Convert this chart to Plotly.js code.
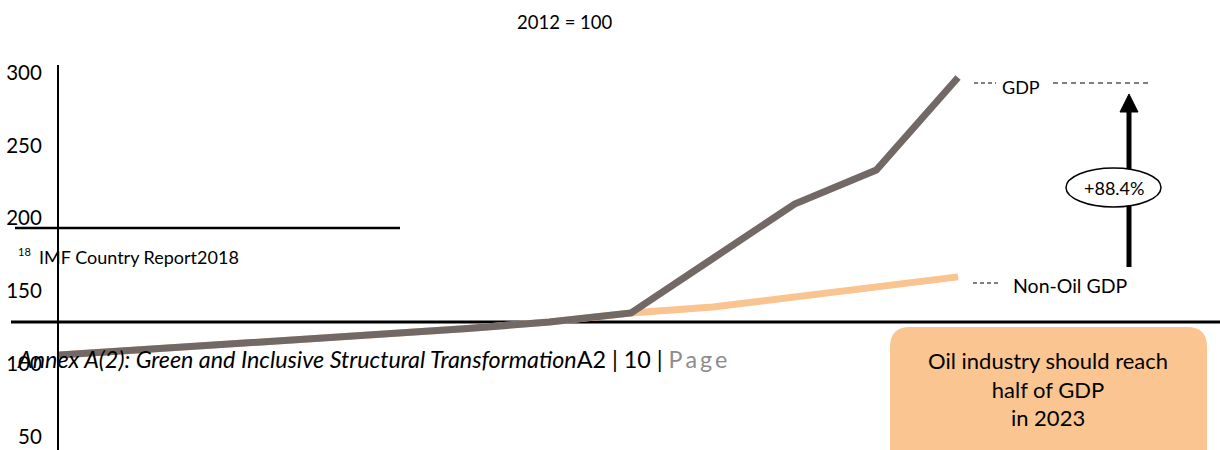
<!DOCTYPE html>
<html>
<head>
<meta charset="utf-8">
<script src="https://cdn.plot.ly/plotly-3.0.1.min.js"></script>
<style>html,body{margin:0;padding:0;background:#fff;}#chart{width:1220px;height:450px;}</style>
</head>
<body>
<div id="chart"></div>
<script>
// ---- data ----
const years = [2012, 2013, 2014, 2015, 2016, 2017, 2018, 2019, 2020, 2021, 2022, 2023];
const gdp = [106.2, 109.7, 113.1, 116.5, 120.6, 124.4, 128.9, 135.1, 172.4, 209.8, 233.1, 296.5];
const nonOilGdp = [106.2, 109.7, 113.1, 116.5, 120.6, 124.4, 128.9, 135.1, 139.2, 146.1, 152.9, 159.8];
const yTicks = [50, 100, 150, 200, 250, 300];
const seriesNames = ["GDP", "Non-Oil GDP"];
const titleText = "2012 = 100";
const growthLabel = "+88.4%";
const noteText = "Oil industry should reach<br>half of GDP<br>in 2023";

// ---- layout geometry ----
const W = 1220, H = 450, ML = 59, MT = 65;
const PW = W - ML, PH = H - MT;
const px = x => (x - ML) / PW;       // pixel -> paper x
const py = y => (H - y) / PH;        // pixel -> paper y
const FONT = "Lato, 'Open Sans', sans-serif";

const traces = [
  {x: years, y: nonOilGdp, name: seriesNames[1], mode: "lines",
   line: {color: "#F9C48F", width: 7}, hoverinfo: "skip"},
  {x: years, y: gdp, name: seriesNames[0], mode: "lines",
   line: {color: "#726966", width: 7}, hoverinfo: "skip"}
];

function rr(x0, y0, x1, y1, r) {
  const X0 = px(x0), X1 = px(x1), Y0 = py(y0), Y1 = py(y1);
  const rx = r / PW, ry = r / PH;
  return `M ${X0+rx},${Y0} L ${X1-rx},${Y0} Q ${X1},${Y0} ${X1},${Y0-ry} L ${X1},${Y1+ry} Q ${X1},${Y1} ${X1-rx},${Y1} L ${X0+rx},${Y1} Q ${X0},${Y1} ${X0},${Y1+ry} L ${X0},${Y0-ry} Q ${X0},${Y0} ${X0+rx},${Y0} Z`;
}

const shapes = [
  // page separator lines
  {type: "line", xref: "paper", yref: "paper", x0: px(15), x1: px(400), y0: py(228), y1: py(228),
   line: {color: "#000", width: 2.5}, layer: "below"},
  {type: "line", xref: "paper", yref: "paper", x0: px(11), x1: px(1220), y0: py(322), y1: py(322),
   line: {color: "#000", width: 3}, layer: "below"},
  // dashed legend leaders
  {type: "line", xref: "paper", yref: "paper", x0: px(974), x1: px(996), y0: py(83), y1: py(83),
   line: {color: "#000", width: 1, dash: "4px,3px"}},
  {type: "line", xref: "paper", yref: "paper", x0: px(1053), x1: px(1150), y0: py(83), y1: py(83),
   line: {color: "#000", width: 1, dash: "5px,4px"}},
  {type: "line", xref: "paper", yref: "paper", x0: px(973), x1: px(1000), y0: py(283), y1: py(283),
   line: {color: "#000", width: 1, dash: "4px,3px"}},
  // arrow shaft and head
  {type: "line", xref: "paper", yref: "paper", x0: px(1129), x1: px(1129), y0: py(267), y1: py(108),
   line: {color: "#000", width: 5}},
  {type: "path", xref: "paper", yref: "paper",
   path: `M ${px(1129)},${py(94)} L ${px(1120)},${py(112)} L ${px(1138)},${py(112)} Z`,
   fillcolor: "#000", line: {color: "#000", width: 1}},
  // ellipse
  {type: "circle", xref: "paper", yref: "paper", x0: px(1066), x1: px(1161), y0: py(168), y1: py(207),
   fillcolor: "#fff", line: {color: "#000", width: 1.5}},
  // orange note box
  {type: "path", xref: "paper", yref: "paper", path: rr(890, 327, 1207, 470, 20),
   fillcolor: "#FAC590", line: {width: 0}}
];

const ann = (x, y, text, size, opts) => Object.assign({
  xref: "paper", yref: "paper", x: px(x), y: py(y), text: text, showarrow: false,
  xanchor: "left", yanchor: "middle", font: {family: FONT, size: size, color: "#000"}
}, opts || {});

const annotations = [
  ann(565, 22, titleText, 18.5, {xanchor: "center"}),
  ann(1000, 87, seriesNames[0], 18),
  ann(1011, 285, seriesNames[1], 19.5),
  ann(1114, 188, growthLabel, 18, {xanchor: "center"}),
  ann(1048, 389, noteText, 22, {xanchor: "center", align: "center"}),
  ann(16, 251, "18", 11),
  ann(37, 257, "IMF Country Report2018", 18),
  ann(15, 359, "<i>Annex A(2): Green and Inclusive Structural Transformation</i>A2 | 10 | <span style='color:#8c8c8c'>P\u2009a\u2009g\u2009e</span>", 23.3)
];

const layout = {
  width: W, height: H,
  margin: {l: ML, r: 0, t: MT, b: 0, pad: 0},
  paper_bgcolor: "#fff", plot_bgcolor: "rgba(0,0,0,0)",
  showlegend: false,
  xaxis: {range: [2012, 2012 + PW / 81.73], visible: false, fixedrange: true},
  yaxis: {range: [41.1, 305.1], tickvals: yTicks, ticktext: yTicks.map(String),
          showgrid: false, zeroline: false, showline: true, linecolor: "#000", linewidth: 2,
          ticks: "outside", ticklen: 11, tickcolor: "rgba(0,0,0,0)",
          tickfont: {family: FONT, size: 20.5, color: "#000"}, fixedrange: true},
  shapes: shapes,
  annotations: annotations
};

Plotly.newPlot("chart", traces, layout, {displayModeBar: false, staticPlot: true});
</script>
</body>
</html>
